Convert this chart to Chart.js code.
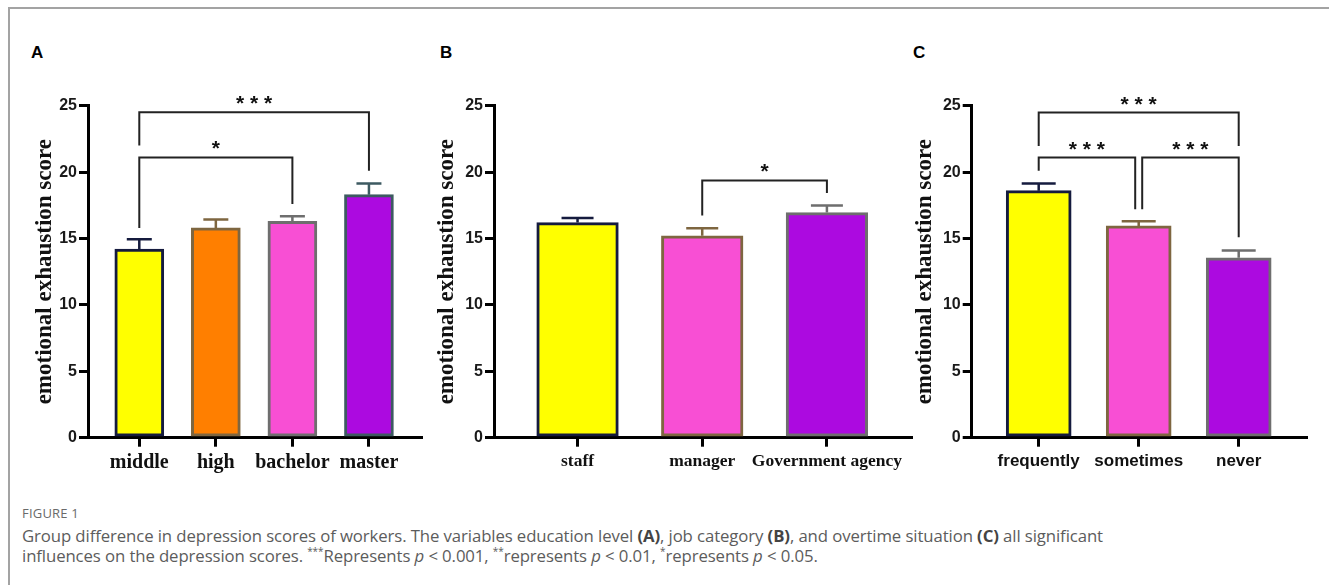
<!DOCTYPE html>
<html>
<head>
<meta charset="utf-8">
<script src="https://cdn.jsdelivr.net/npm/chart.js@4.4.1/dist/chart.umd.min.js"></script>
<style>
  html, body { margin: 0; padding: 0; background: #fff; }
  #fig { position: relative; width: 1329px; height: 585px; overflow: hidden; }
  #frame { position: absolute; left: 8px; top: 7px; right: 0; bottom: 0;
           border-left: 2px solid #a3a3a3; border-top: 2px solid #a3a3a3; }
  canvas { position: absolute; top: 60px; }
  .tag { position: absolute; top: 43px; line-height: 20px;
         font: bold 17px 'Liberation Sans', Arial, sans-serif; color: #000; }
  #caption { position: absolute; left: 22px; top: 505px; color: #5c5c5c;
             font-family: 'Open Sans', sans-serif; }
  #caption .fig { font-size: 13px; line-height: 16px; color: #6a6a6a; letter-spacing: 0.2px; }
  #caption .txt { margin-top: 5px; font-size: 16.75px; line-height: 20px; letter-spacing: -0.1px; }
  #caption b { font-weight: 700; color: #444; }
  #caption sup { font-size: 10px; line-height: 0; }
</style>
</head>
<body>
<div id="fig">
  <div id="frame"></div>
  <div class="tag" style="left:31px">A</div>
  <div class="tag" style="left:440px">B</div>
  <div class="tag" style="left:913px">C</div>
  <canvas id="chartA" width="440" height="420" style="left:0px"></canvas>
  <canvas id="chartB" width="500" height="420" style="left:420px"></canvas>
  <canvas id="chartC" width="439" height="420" style="left:890px"></canvas>
  <div id="caption">
    <div class="fig">FIGURE 1</div>
    <div class="txt">Group difference in depression scores of workers. The variables education level <b>(A)</b>, job category <b>(B)</b>, and overtime situation <b>(C)</b> all significant<br>influences on the depression scores. <sup>***</sup>Represents <i>p</i> &lt; 0.001, <sup>**</sup>represents <i>p</i> &lt; 0.01, <sup>*</sup>represents <i>p</i> &lt; 0.05.</div>
  </div>
</div>
<script>
// ---- Panel A: education level ----
const educationLevels = ['middle', 'high', 'bachelor', 'master'];
const educationMeans  = [14.2, 15.8, 16.3, 18.3];
const educationErrors = [0.74, 0.64, 0.38, 0.85];
// bracket: from / to (category index), bar height, left leg end, right leg end (score units)
const educationBrackets = [
  { from: 0, to: 3, level: 24.5, leftEnd: 22.0, rightEnd: 20.1, label: '***' },
  { from: 0, to: 2, level: 21.1, leftEnd: 15.8, rightEnd: 17.6, label: '*' }
];

// ---- Panel B: job category ----
const jobCategories = ['staff', 'manager', 'Government agency'];
const jobMeans  = [16.2, 15.2, 16.95];
const jobErrors = [0.34, 0.58, 0.53];
const jobBrackets = [
  { from: 1, to: 2, level: 19.37, leftEnd: 16.74, rightEnd: 18.42, label: '*' }
];

// ---- Panel C: overtime situation ----
const overtimeLevels = ['frequently', 'sometimes', 'never'];
const overtimeMeans  = [18.6, 15.95, 13.55];
const overtimeErrors = [0.55, 0.35, 0.55];
const overtimeBrackets = [
  { from: 0, to: 2, level: 24.48, leftEnd: 21.97, rightEnd: 21.97, label: '***' },
  { from: 0, to: 0.965, level: 21.09, leftEnd: 20.1, rightEnd: 17.2, label: '***' },
  { from: 1.035, to: 2, level: 21.09, leftEnd: 17.2, rightEnd: 15.1, label: '***' }
];

const yTicks = [0, 5, 10, 15, 20, 25];

const YELLOW = '#ffff00', ORANGE = '#ff7f00', PINK = '#f84fd4', PURPLE = '#ac0ae0';
const NAVY = '#151b3e', BROWN = '#7e6640', GREY = '#6e6e6e', SLATE = '#3d5a61';

// Error bars (upper half only) and significance brackets
const annotate = {
  id: 'annotate',
  afterDatasetsDraw(chart, args, o) {
    const { ctx, scales: { x, y } } = chart;
    ctx.save();
    o.means.forEach((m, i) => {
      const px = x.getPixelForValue(i);
      const y0 = y.getPixelForValue(m);
      const y1 = y.getPixelForValue(m + o.errors[i]);
      ctx.strokeStyle = o.colors[i];
      ctx.lineWidth = 2.5;
      ctx.beginPath();
      ctx.moveTo(px, y0);
      ctx.lineTo(px, y1);
      ctx.moveTo(px - o.cap / 2, y1);
      ctx.lineTo(px + o.cap / 2, y1);
      ctx.stroke();
    });
    ctx.strokeStyle = '#222';
    ctx.lineWidth = 2;
    ctx.fillStyle = '#111';
    ctx.font = "bold 21px 'Liberation Sans', Arial, sans-serif";
    ctx.textAlign = 'center';
    ctx.textBaseline = 'alphabetic';
    o.brackets.forEach(b => {
      const xl = x.getPixelForValue(b.from), xr = x.getPixelForValue(b.to);
      const yb = y.getPixelForValue(b.level);
      ctx.beginPath();
      ctx.moveTo(xl, y.getPixelForValue(b.leftEnd));
      ctx.lineTo(xl, yb);
      ctx.lineTo(xr, yb);
      ctx.lineTo(xr, y.getPixelForValue(b.rightEnd));
      ctx.stroke();
      ctx.fillText(b.label.split('').join(' '), (xl + xr) / 2, yb - 2);
    });
    ctx.restore();
  }
};

function makePanel(id, p) {
  const n = p.labels.length;
  return new Chart(document.getElementById(id), {
    type: 'bar',
    data: {
      datasets: [{
        data: p.means.map((v, i) => ({ x: i, y: v })),
        backgroundColor: p.fills,
        borderColor: p.borders,
        borderWidth: 3,
        borderSkipped: false,
        barThickness: p.barWidth
      }]
    },
    options: {
      responsive: false,
      animation: false,
      events: [],
      layout: { padding: { left: p.padLeft, right: p.padRight, top: 45.7, bottom: 2.3 } },
      plugins: {
        legend: { display: false },
        tooltip: { enabled: false },
        annotate: { means: p.means, errors: p.errors, colors: p.borders, cap: p.cap, brackets: p.brackets }
      },
      scales: {
        x: {
          type: 'linear',
          offset: false,
          min: -0.67,
          max: n - 1 + 0.68,
          afterBuildTicks: s => { s.ticks = p.labels.map((_, i) => ({ value: i })); },
          afterFit: s => { s.height = 40; s.paddingLeft = 0; s.paddingRight = 0; },
          border: { display: true, color: '#000', width: 3 },
          grid: { offset: false, drawOnChartArea: false, drawTicks: true, tickLength: 9, lineWidth: 3, color: '#000' },
          ticks: {
            autoSkip: false,
            maxRotation: 0,
            padding: 4,
            color: '#111',
            font: p.xFont,
            callback: v => p.labels[v]
          }
        },
        y: {
          min: 0,
          max: 25,
          afterBuildTicks: s => { s.ticks = yTicks.map(v => ({ value: v })); },
          afterFit: s => { s.width = p.yWidth; },
          border: { display: true, color: '#000', width: 3 },
          grid: { drawOnChartArea: false, drawTicks: true, tickLength: 9, lineWidth: 3, color: '#000' },
          ticks: {
            padding: 2,
            color: '#1a1a1a',
            font: { family: "'Liberation Sans', Arial, sans-serif", weight: 'bold', size: 16 }
          },
          title: {
            display: true,
            text: 'emotional exhaustion score',
            color: '#111',
            font: { family: "'Liberation Serif', 'Times New Roman', serif", weight: 'bold', size: 23 },
            padding: { top: 4, bottom: 4 }
          }
        }
      }
    },
    plugins: [annotate]
  });
}

const serifX = { family: "'Liberation Serif', 'Times New Roman', serif", weight: 'bold' };

makePanel('chartA', {
  labels: educationLevels, means: educationMeans, errors: educationErrors, brackets: educationBrackets,
  fills: [YELLOW, ORANGE, PINK, PURPLE], borders: [NAVY, BROWN, GREY, SLATE],
  barWidth: 49, cap: 25, padLeft: 27.2, yWidth: 60.8, padRight: 19,
  xFont: Object.assign({ size: 20 }, serifX)
});
makePanel('chartB', {
  labels: jobCategories, means: jobMeans, errors: jobErrors, brackets: jobBrackets,
  fills: [YELLOW, PINK, PURPLE], borders: [NAVY, BROWN, GREY],
  barWidth: 81.6, cap: 32, padLeft: 8.9, yWidth: 65.1, padRight: 8.3,
  xFont: Object.assign({ size: 17.5 }, serifX)
});
makePanel('chartC', {
  labels: overtimeLevels, means: overtimeMeans, errors: overtimeErrors, brackets: overtimeBrackets,
  fills: [YELLOW, PINK, PURPLE], borders: [NAVY, BROWN, GREY],
  barWidth: 65, cap: 34, padLeft: 17.2, yWidth: 64.5, padRight: 22.3,
  xFont: { family: "'Liberation Sans', Arial, sans-serif", weight: 'bold', size: 17 }
});
</script>
</body>
</html>
